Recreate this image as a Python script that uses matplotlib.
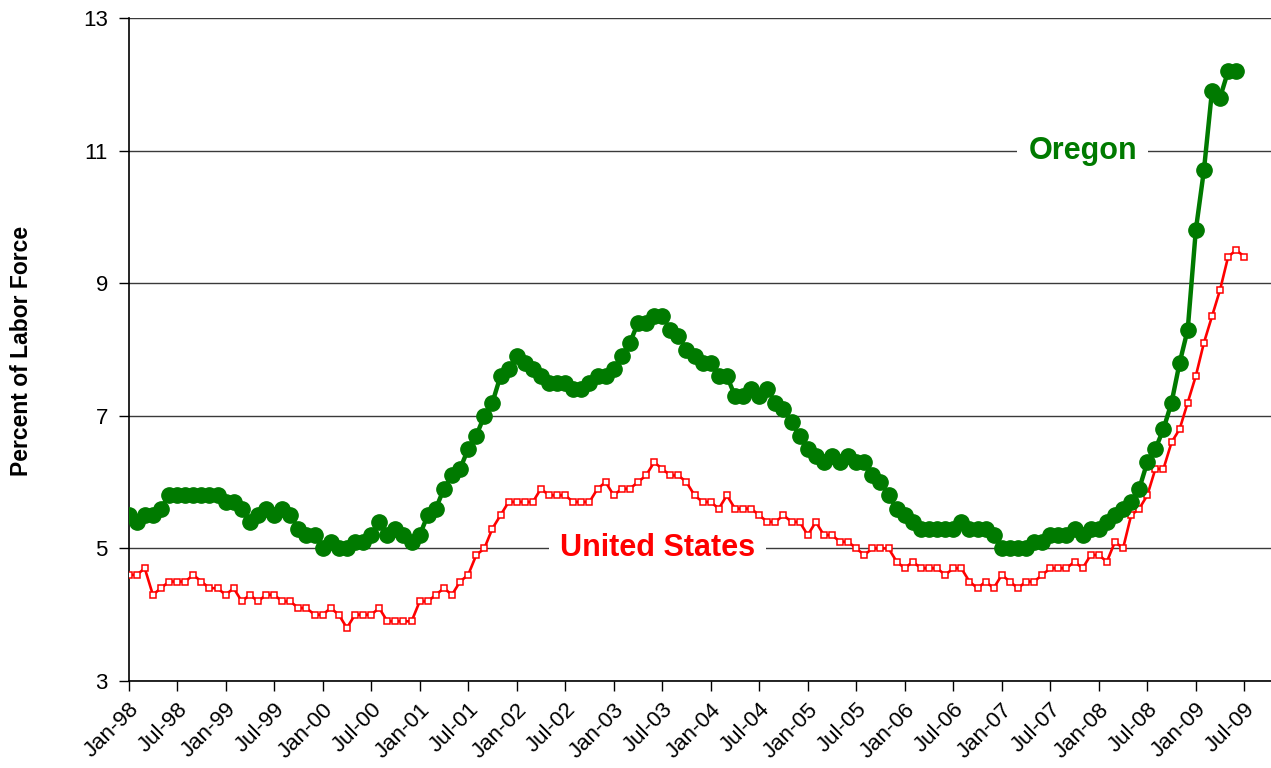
import numpy as np
import matplotlib.pyplot as plt

# monthly unemployment rate, Jan-98 .. Jul-09 (US), Jan-98 .. Jun-09 (Oregon)
oregon = [
    5.5, 5.4, 5.5, 5.5, 5.6, 5.8, 5.8, 5.8, 5.8, 5.8, 5.8, 5.8,   # 1998
    5.7, 5.7, 5.6, 5.4, 5.5, 5.6, 5.5, 5.6, 5.5, 5.3, 5.2, 5.2,   # 1999
    5.0, 5.1, 5.0, 5.0, 5.1, 5.1, 5.2, 5.4, 5.2, 5.3, 5.2, 5.1,   # 2000
    5.2, 5.5, 5.6, 5.9, 6.1, 6.2, 6.5, 6.7, 7.0, 7.2, 7.6, 7.7,   # 2001
    7.9, 7.8, 7.7, 7.6, 7.5, 7.5, 7.5, 7.4, 7.4, 7.5, 7.6, 7.6,   # 2002
    7.7, 7.9, 8.1, 8.4, 8.4, 8.5, 8.5, 8.3, 8.2, 8.0, 7.9, 7.8,   # 2003
    7.8, 7.6, 7.6, 7.3, 7.3, 7.4, 7.3, 7.4, 7.2, 7.1, 6.9, 6.7,   # 2004
    6.5, 6.4, 6.3, 6.4, 6.3, 6.4, 6.3, 6.3, 6.1, 6.0, 5.8, 5.6,   # 2005
    5.5, 5.4, 5.3, 5.3, 5.3, 5.3, 5.3, 5.4, 5.3, 5.3, 5.3, 5.2,   # 2006
    5.0, 5.0, 5.0, 5.0, 5.1, 5.1, 5.2, 5.2, 5.2, 5.3, 5.2, 5.3,   # 2007
    5.3, 5.4, 5.5, 5.6, 5.7, 5.9, 6.3, 6.5, 6.8, 7.2, 7.8, 8.3,   # 2008
    9.8, 10.7, 11.9, 11.8, 12.2, 12.2,                            # 2009
]
us = [
    4.6, 4.6, 4.7, 4.3, 4.4, 4.5, 4.5, 4.5, 4.6, 4.5, 4.4, 4.4,
    4.3, 4.4, 4.2, 4.3, 4.2, 4.3, 4.3, 4.2, 4.2, 4.1, 4.1, 4.0,
    4.0, 4.1, 4.0, 3.8, 4.0, 4.0, 4.0, 4.1, 3.9, 3.9, 3.9, 3.9,
    4.2, 4.2, 4.3, 4.4, 4.3, 4.5, 4.6, 4.9, 5.0, 5.3, 5.5, 5.7,
    5.7, 5.7, 5.7, 5.9, 5.8, 5.8, 5.8, 5.7, 5.7, 5.7, 5.9, 6.0,
    5.8, 5.9, 5.9, 6.0, 6.1, 6.3, 6.2, 6.1, 6.1, 6.0, 5.8, 5.7,
    5.7, 5.6, 5.8, 5.6, 5.6, 5.6, 5.5, 5.4, 5.4, 5.5, 5.4, 5.4,
    5.2, 5.4, 5.2, 5.2, 5.1, 5.1, 5.0, 4.9, 5.0, 5.0, 5.0, 4.8,
    4.7, 4.8, 4.7, 4.7, 4.7, 4.6, 4.7, 4.7, 4.5, 4.4, 4.5, 4.4,
    4.6, 4.5, 4.4, 4.5, 4.5, 4.6, 4.7, 4.7, 4.7, 4.8, 4.7, 4.9,
    4.9, 4.8, 5.1, 5.0, 5.5, 5.6, 5.8, 6.2, 6.2, 6.6, 6.8, 7.2,
    7.6, 8.1, 8.5, 8.9, 9.4, 9.5, 9.4,
]
tick_labels = [
    "Jan-98", "Jul-98", "Jan-99", "Jul-99", "Jan-00", "Jul-00",
    "Jan-01", "Jul-01", "Jan-02", "Jul-02", "Jan-03", "Jul-03",
    "Jan-04", "Jul-04", "Jan-05", "Jul-05", "Jan-06", "Jul-06",
    "Jan-07", "Jul-07", "Jan-08", "Jul-08", "Jan-09", "Jul-09",
]

plt.rcParams["font.family"] = ["Liberation Sans", "DejaVu Sans"]

fig = plt.figure(figsize=(12.71, 7.68), dpi=100)
ax = fig.add_axes([128.6 / 1271, 87 / 768, 1 - 128.6 / 1271, 663 / 768])

x_or = np.arange(len(oregon))
x_us = np.arange(len(us))

ax.plot(x_or, oregon, color="#007a00", lw=3.2, marker="o", ms=11,
        mec="#007a00", mfc="#007a00", zorder=4)
ax.plot(x_us, us, color="#ff0000", lw=1.9, marker="s", ms=4.6,
        mec="#ff0000", mfc="white", mew=1.1, zorder=3)

ax.set_xlim(0, 141.3)
ax.set_ylim(3, 13)
ax.set_yticks([3, 5, 7, 9, 11, 13])
ax.set_xticks(np.arange(0, 6 * len(tick_labels), 6))
ax.set_xticklabels(tick_labels, rotation=45, ha="right", va="top",
                   rotation_mode="anchor")
ax.tick_params(axis="both", direction="out", length=7, width=1,
               labelsize=16, color="black")
ax.tick_params(axis="x", pad=6)
ax.tick_params(axis="y", pad=8)

ax.grid(axis="y", color="#3a3a3a", lw=1, zorder=0.5)
ax.set_axisbelow(True)
for s in ("top", "right"):
    ax.spines[s].set_visible(False)
for s in ("left", "bottom"):
    ax.spines[s].set_color("black")
    ax.spines[s].set_linewidth(1.2)

# series labels sit on a white box that cuts the gridline
ax.text(65.4, 5.0, "United States", color="#ff0000", fontsize=22,
        fontweight="bold", ha="center", va="center", zorder=1.5,
        bbox=dict(fc="white", ec="none", pad=8))
ax.text(118, 11.0, "Oregon", color="#007a00", fontsize=22,
        fontweight="bold", ha="center", va="center", zorder=1.5,
        bbox=dict(fc="white", ec="none", pad=8))

fig.text(22 / 1271, (768 - 351) / 768, "Percent of Labor Force",
         rotation=90, fontsize=16.5, fontweight="bold", ha="center",
         va="center")

fig.savefig("out.png", dpi=100)
